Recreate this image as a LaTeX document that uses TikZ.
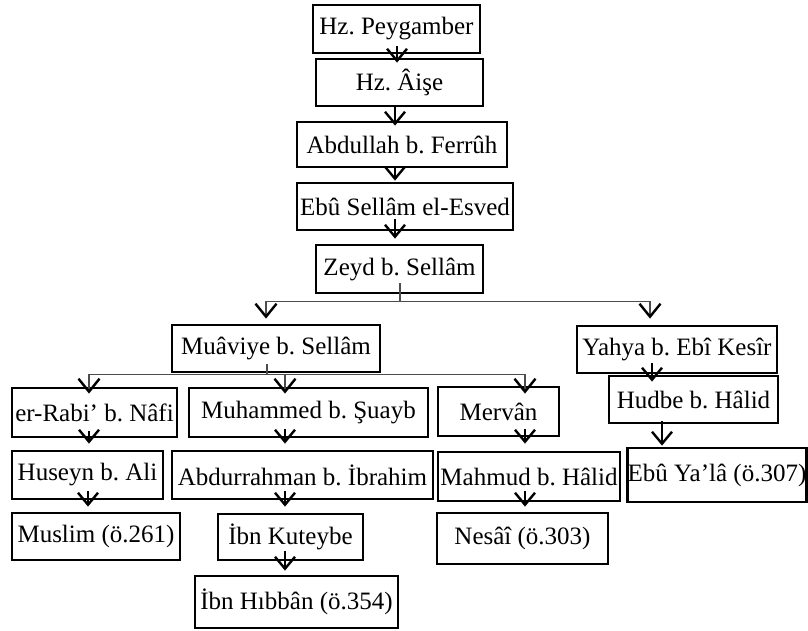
\documentclass[tikz,border=0pt]{standalone}
\usepackage{fontspec}
\setmainfont{Liberation Serif}
\usetikzlibrary{arrows.meta,calc}
\frenchspacing
\tikzset{
  box/.style={draw=black, line width=2.8pt, inner sep=0pt, font=\fontsize{25}{29}\selectfont},
  sarr/.style={draw=black, line width=2pt, -{Straight Barb[length=12pt,width=20pt,line width=2.4pt]}},
  tline/.style={draw=black!70, line width=1.4pt},
  tarr/.style={tline, -{Straight Barb[length=13pt,width=21pt,line width=2.4pt,color=black]}}
}
\newcommand\bx[6]{\node[box, minimum width=#4-#2, minimum height=#5-#3] (#1) at ({(#2+#4)/2},{(#3+#5)/2}) {#6};}
\begin{document}
\begin{tikzpicture}[x=1pt,y=-1pt]
\useasboundingbox (0,0) rectangle (808,630);
\bx{peyg}{313}{5}{480}{53}{Hz. Peygamber}
\bx{aise}{316}{59}{483}{106}{Hz. Âişe}
\bx{abd}{297}{122}{507}{167}{Abdullah b. Ferrûh}
\bx{ebus}{297}{183}{513}{230}{Ebû Sellâm el-Esved}
\bx{zeyd}{316}{245}{483}{293}{Zeyd b. Sellâm}
\bx{muav}{172}{325}{380}{372}{Muâviye b. Sellâm}
\bx{yahya}{577}{326}{777}{373}{Yahya b. Ebî Kesîr}
\bx{rabi}{12}{388}{177}{437}{er-Rabi’ b. Nâfi}
\bx{muh}{189}{388}{428}{437}{Muhammed b. Şuayb}
\bx{merv}{438}{387}{559}{436}{Mervân}
\bx{hudbe}{609}{376}{778}{423}{Hudbe b. Hâlid}
\bx{huseyn}{12}{451}{163}{499}{Huseyn b. Ali}
\bx{abdur}{172}{451}{433}{499}{Abdurrahman b. İbrahim}
\bx{mahmud}{438}{452}{620}{501}{Mahmud b. Hâlid}
\bx{ebuy}{628}{448}{806}{502}{Ebû Ya’lâ (ö.307)}
\bx{muslim}{12}{513}{180}{560}{Muslim (ö.261)}
\bx{kut}{218}{514}{363}{560}{İbn Kuteybe}
\bx{nesai}{437}{513}{608}{564}{Nesâî (ö.303)}
\bx{hibban}{195}{576}{398}{628}{İbn Hıbbân (ö.354)}

% short chain arrows
\draw[sarr] ($(peyg.south)+(0.5,-8)$) -- ($(aise.north)+(-2.5,5)$);
\draw[sarr] ($(aise.south)+(-4.5,0)$) -- ($(abd.north)+(-7,5)$);
\draw[sarr] ($(abd.south)+(-7,-2)$) -- ($(ebus.north)+(-10,-1)$);
\draw[sarr] ($(ebus.south)+(-10,-12)$) -- ($(zeyd.north)+(-4.5,-5)$);

% Zeyd branches
\draw[tline] ($(zeyd.south)+(0.5,-11)$) -- ($(zeyd.south)+(0.5,7)$) coordinate (zj);
\draw[tarr] (zj) -| ($(muav.north)+(-10,-5)$);
\draw[tarr] (zj) -| ($(yahya.north)+(-27,-6)$);

% Muaviye branches
\draw[tline] ($(muav.south)+(-9,-9)$) -- ($(muav.south)+(-9,1)$) coordinate (mj);
\draw[tarr] (mj) -| ($(rabi.north)+(-5.5,7)$);
\draw[tarr] (mj) -| ($(muh.north)+(-23.5,7)$);
\draw[tarr] (mj) -| ($(merv.north)+(26.5,8)$);

% lower chains
\draw[sarr] ($(rabi.south)+(-5.5,-7)$) -- ($(huseyn.north)+(1.5,-6)$);
\draw[sarr] ($(huseyn.south)+(0.5,-9)$) -- ($(muslim.north)+(-8,-5)$);
\draw[sarr] ($(muh.south)+(-23.5,-9)$) -- ($(abdur.north)+(-17.5,-6)$);
\draw[sarr] ($(abdur.south)+(-17.5,-9)$) -- ($(kut.north)+(-5.5,-6)$);
\draw[sarr] ($(kut.south)+(-5.5,-10)$) -- ($(hibban.north)+(-11.5,-4)$);
\draw[sarr] ($(merv.south)+(26.5,-8)$) -- ($(mahmud.north)+(-4,-7)$);
\draw[sarr] ($(mahmud.south)+(-4,-11)$) -- ($(nesai.north)+(2.5,-5)$);
\draw[sarr] ($(yahya.south)+(-25,-11)$) -- ($(hudbe.north)+(-41.5,7)$);
\draw[sarr] ($(hudbe.south)+(-31.5,-3)$) -- ($(ebuy.north)+(-55,-1)$);
\end{tikzpicture}
\end{document}
